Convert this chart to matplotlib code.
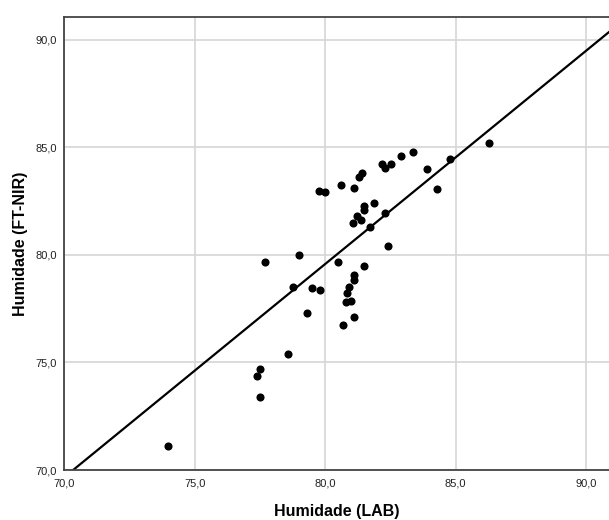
import matplotlib
matplotlib.use("Agg")
import matplotlib.pyplot as plt
from matplotlib.ticker import FuncFormatter

# Data
lab = [73.98, 77.39, 77.50, 77.50, 78.57, 77.69, 79.00, 78.78, 79.48, 79.80,
       79.29, 80.48, 81.50, 81.10, 81.10, 80.90, 80.82, 80.80, 81.00, 81.10,
       80.69, 79.77, 80.00, 80.59, 81.10, 81.30, 81.40, 82.16, 82.29, 82.51,
       82.90, 83.38, 84.78, 83.89, 84.30, 81.50, 81.50, 81.88, 81.20, 81.37,
       81.08, 81.70, 82.29, 82.41, 86.28]
ftnir = [71.12, 74.37, 74.70, 73.40, 75.40, 79.67, 80.00, 78.53, 78.45, 78.39,
         77.29, 79.66, 79.50, 79.07, 78.84, 78.50, 78.22, 77.81, 77.84, 77.10,
         76.74, 82.96, 82.92, 83.24, 83.10, 83.63, 83.81, 84.22, 84.03, 84.22,
         84.60, 84.77, 84.45, 83.99, 83.06, 82.26, 82.07, 82.42, 81.79, 81.63,
         81.47, 81.29, 81.95, 80.43, 85.20]
fit_slope = 0.992
fit_intercept = 0.22
ticks = [70, 75, 80, 85, 90]

plt.rcParams['font.family'] = ['Liberation Sans', 'DejaVu Sans']

fig = plt.figure(figsize=(6.09, 5.20), dpi=100)
ax = fig.add_axes([64.2 / 609, 1 - 470 / 520, 1 - 64.2 / 609, (470 - 16.7) / 520])

ax.set_xlim(70, 90.874)
ax.set_ylim(70, 91.08)
ax.set_xticks(ticks)
ax.set_yticks(ticks)
fmt = FuncFormatter(lambda v, p: f"{v:.1f}".replace('.', ','))
ax.xaxis.set_major_formatter(fmt)
ax.yaxis.set_major_formatter(fmt)
ax.tick_params(length=0, labelsize=8, colors='#222222', pad=5)
ax.tick_params(axis='x', pad=6)

ax.grid(True, color='#d6d6d6', linewidth=1.2)
ax.set_axisbelow(True)
for side in ['left', 'bottom', 'top']:
    ax.spines[side].set_color('#444444')
    ax.spines[side].set_linewidth(1.3)
ax.spines['right'].set_visible(False)

ax.scatter(lab, ftnir, s=34, color='black', zorder=3, linewidths=0)
ax.axline((0, fit_intercept), slope=fit_slope, color='black', linewidth=1.6, zorder=2)

ax.set_xlabel('Humidade (LAB)', fontsize=11.5, fontweight='bold', labelpad=11)
ax.set_ylabel('Humidade (FT-NIR)', fontsize=11.5, fontweight='bold', labelpad=5.5)

fig.savefig('out.png', dpi=100)
